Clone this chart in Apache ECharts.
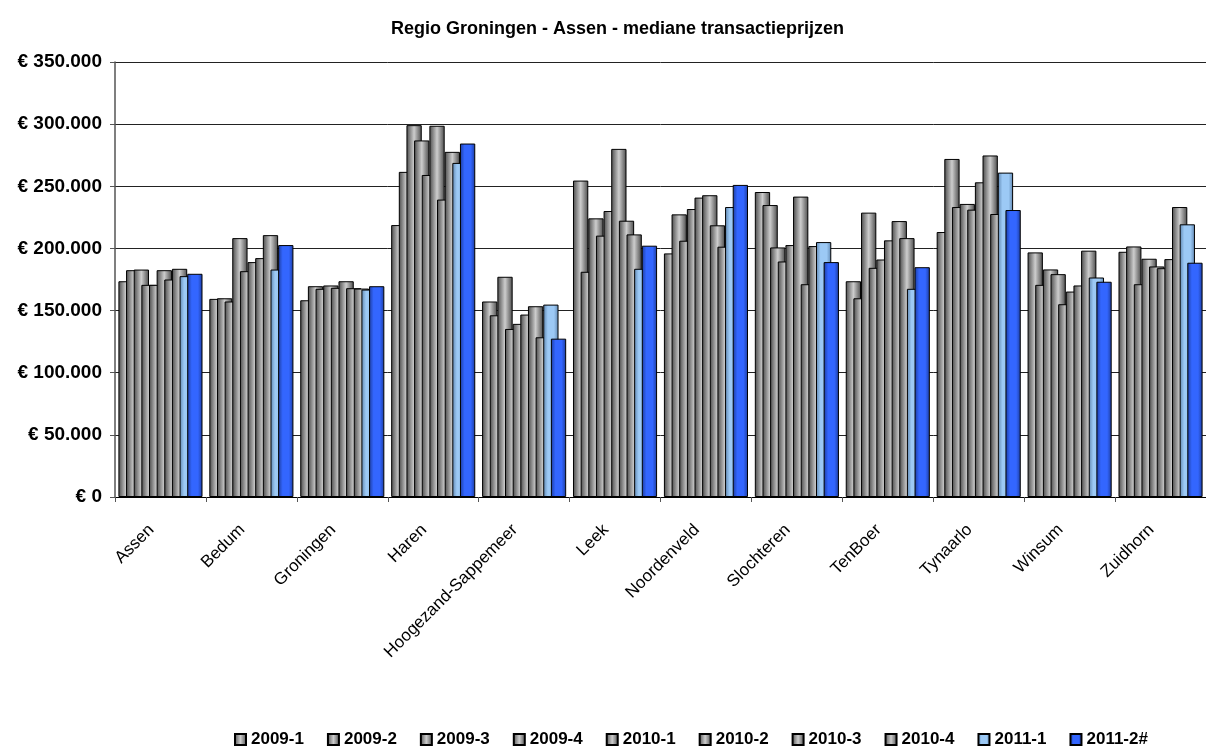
<!DOCTYPE html>
<html>
<head>
<meta charset="utf-8">
<script src="https://cdn.jsdelivr.net/npm/echarts@6.0.0/dist/echarts.min.js"></script>
<style>
html,body{margin:0;padding:0;background:#fff;}
#chart{width:1206px;height:747px;}
</style>
</head>
<body>
<div id="chart"></div>
<script>
var categories = ["Assen","Bedum","Groningen","Haren","Hoogezand-Sappemeer","Leek","Noordenveld","Slochteren","TenBoer","Tynaarlo","Winsum","Zuidhorn"];
var seriesNames = ["2009-1","2009-2","2009-3","2009-4","2010-1","2010-2","2010-3","2010-4","2011-1","2011-2#"];
var yTicks = [0, 50000, 100000, 150000, 200000, 250000, 300000, 350000];

var s2009_1 = [173600,159400,158300,218800,157300,254600,196000,245400,173600,213200,196800,197300];
var s2009_2 = [182500,159900,169600,261600,146200,181200,227400,234900,159900,272000,170700,201600];
var s2009_3 = [183000,157300,167500,299200,177200,224200,206200,200800,228800,233300,183100,171200];
var s2009_4 = [170700,208300,170200,286900,135200,210300,231700,189500,184400,235800,179300,191700];
var s2010_1 = [170700,181700,168300,259100,139300,230100,240900,202700,191100,231200,155100,185500];
var s2010_2 = [182500,189000,173600,298700,146800,280100,242800,241700,206500,253200,165300,184100];
var s2010_3 = [175000,192200,168000,239300,153500,222300,218600,171200,222000,274800,170200,191400];
var s2010_4 = [183600,210700,167700,277700,128500,211300,201400,201900,208300,227700,198200,233300];
var s2011_1 = [177700,183000,166900,268800,154800,183600,233300,205100,167500,261000,176600,219400];
var s2011_2 = [179600,202700,169600,284400,127400,202200,251100,189000,184900,230900,173200,188500];

var seriesData = [s2009_1,s2009_2,s2009_3,s2009_4,s2010_1,s2010_2,s2010_3,s2010_4,s2011_1,s2011_2];

var FONT = 'Arial, "Liberation Sans", sans-serif';

function grad(edge, mid, flat) {
  var stops = flat
    ? [{offset:0,color:edge},{offset:0.3,color:mid},{offset:0.7,color:mid},{offset:1,color:edge}]
    : [{offset:0,color:edge},{offset:0.5,color:mid},{offset:1,color:edge}];
  return new echarts.graphic.LinearGradient(0,0,1,0,stops);
}
var greyFill = grad('#4a4a4a','#cdcdcd',false);
var lightBlueFill = grad('#5f86b0','#9cc9f5',true);
var blueFill = grad('#1c3c9e','#3366ff',true);

function fillFor(i){
  if (i === 8) return lightBlueFill;
  if (i === 9) return blueFill;
  return greyFill;
}

var series = seriesNames.map(function(name, i){
  return {
    name: name,
    type: 'bar',
    data: seriesData[i],
    barGap: '-50%',
    barCategoryGap: '7.5%',
    itemStyle: { color: fillFor(i), borderColor: '#000', borderWidth: 1 },
    emphasis: { disabled: true }
  };
});

function euro(v){
  var s = String(Math.round(v)).replace(/\B(?=(\d{3})+(?!\d))/g, '.');
  return '€ ' + s;
}

var chart = echarts.init(document.getElementById('chart'), null, {renderer:'canvas'});
chart.setOption({
  animation: false,
  backgroundColor: '#fff',
  title: {
    text: 'Regio Groningen - Assen - mediane transactieprijzen',
    left: 386,
    top: 15,
    textStyle: { fontFamily: FONT, fontSize: 18, fontWeight: 'bold', color: '#000' }
  },
  legend: {
    left: 229,
    top: 726,
    itemWidth: 11,
    itemHeight: 11,
    itemGap: 23,
    icon: 'rect',
    textStyle: { fontFamily: FONT, fontSize: 17, fontWeight: 'bold', color: '#000' },
    data: seriesNames
  },
  grid: { left: 115, right: -9, top: 62, bottom: 250, containLabel: false },
  xAxis: {
    type: 'category',
    data: categories,
    axisLine: { lineStyle: { color: '#000', width: 1 } },
    axisTick: { show: true, length: 5, lineStyle: { color: '#555' } },
    axisLabel: { rotate: 45, margin: 21, padding: [0, 13, 0, 0], interval: 0, fontFamily: FONT, fontSize: 17, color: '#000' }
  },
  yAxis: {
    type: 'value',
    min: 0,
    max: 350000,
    interval: 50000,
    axisLine: { show: true, lineStyle: { color: '#555', width: 1.5 } },
    axisTick: { show: true, length: 5, lineStyle: { color: '#555' } },
    splitLine: { show: true, lineStyle: { color: '#222', width: 1 } },
    axisLabel: {
      margin: 13,
      fontFamily: FONT, fontSize: 19, fontWeight: 'bold', color: '#000',
      formatter: function(v){ return yTicks.indexOf(v) >= 0 ? euro(v) : ''; }
    }
  },
  series: series
});
</script>
</body>
</html>
